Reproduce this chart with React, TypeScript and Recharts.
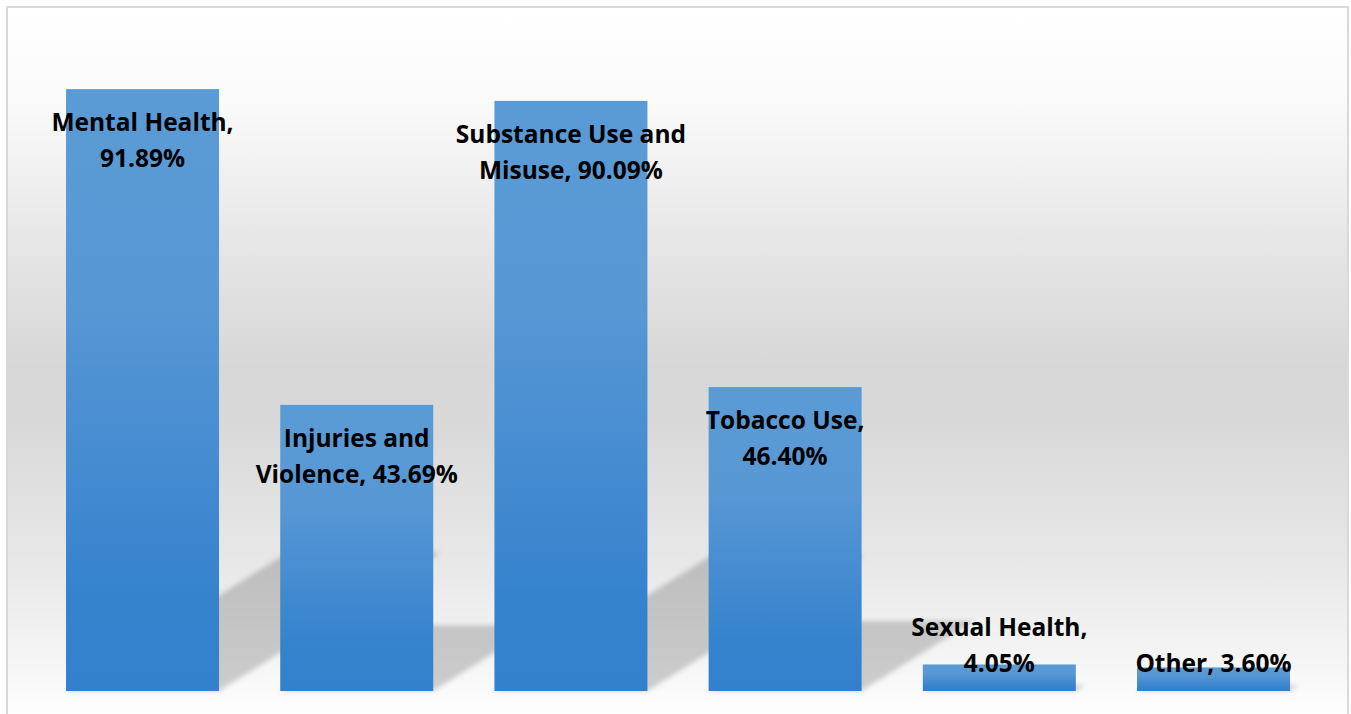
import React from 'react';
import { BarChart, Bar, XAxis, YAxis, LabelList } from 'recharts';

const categories = [
  'Mental Health',
  'Injuries and Violence',
  'Substance Use and Misuse',
  'Tobacco Use',
  'Sexual Health',
  'Other',
];
const shares = [91.89, 43.69, 90.09, 46.4, 4.05, 3.6];

const data = categories.map((name, i) => ({ name, share: shares[i] }));

const WIDTH = 1351;
const HEIGHT = 714;
const FONT_SIZE = 24.5;
const LINE_HEIGHT = 36;
const MAX_CHARS = 17;

// greedy word wrap on character count
function wrapLabel(text: string): string[] {
  const words = text.split(' ');
  const lines: string[] = [];
  let current = '';
  words.forEach((w) => {
    const next = current ? `${current} ${w}` : w;
    if (next.length > MAX_CHARS && current) {
      lines.push(current);
      current = w;
    } else {
      current = next;
    }
  });
  if (current) lines.push(current);
  return lines;
}

// bar with a skewed, blurred floor shadow falling back to the right
function ShadowedBar(props: any) {
  const { x, y, width, height, index } = props;
  if (!height || height <= 0) return null;
  const base = y + height;
  const rise = height * 0.23;
  const run = rise * 1.6;
  const pts = `${x},${base} ${x + width},${base} ${x + width + run},${base - rise} ${x + run},${base - rise}`;
  const gid = `barFill-${index}`;
  const fid = `barShadow-${index}`;
  return (
    <g>
      <defs>
        <linearGradient id={gid} x1="0" y1="0" x2="0" y2="1">
          <stop offset="0" stopColor="#5b9bd5" />
          <stop offset="0.35" stopColor="#5797d4" />
          <stop offset="0.85" stopColor="#3582cd" />
          <stop offset="1" stopColor="#3380cc" />
        </linearGradient>
        <filter id={fid} x="-0.2" y="-1" width="1.4" height="3">
          <feGaussianBlur stdDeviation="2.5" />
        </filter>
      </defs>
      <polygon points={pts} fill="#000" fillOpacity={0.18} filter={`url(#${fid})`} />
      <rect x={x} y={y} width={width} height={height} fill={`url(#${gid})`} />
    </g>
  );
}

function BarLabel(props: any) {
  const x = Number(props.x);
  const y = Number(props.y);
  const width = Number(props.width);
  const height = Number(props.height);
  const i = props.index ?? categories.indexOf(props.value);
  const lines = wrapLabel(`${categories[i]}, ${shares[i].toFixed(2)}%`);
  const base = y + height;
  const top = Math.min(y + 15, base - 10 - lines.length * LINE_HEIGHT);
  const cx = x + width / 2;
  return (
    <text
      textAnchor="middle"
      fontFamily="'Open Sans', sans-serif"
      fontWeight={700}
      fontSize={FONT_SIZE}
      fill="#000"
    >
      {lines.map((line, k) => (
        <tspan key={k} x={cx} y={top + LINE_HEIGHT * (k + 0.5) + 8.7}>
          {line}
        </tspan>
      ))}
    </text>
  );
}

export default function App() {
  return (
    <div style={{ position: 'absolute', left: 0, top: 0, width: WIDTH, height: HEIGHT, overflow: 'hidden', background: '#fff' }}>
      <div
        style={{
          position: 'absolute',
          left: 6,
          top: 6,
          width: 1339,
          height: 720,
          border: '2px solid #d9d9d9',
          background:
            'linear-gradient(to bottom, #ffffff 0%, #fbfbfb 12%, #e4e4e4 35%, #d7d7d7 50%, #d9d9d9 58%, #e6e6e6 75%, #f4f4f4 90%, #fdfdfd 97%, #ffffff 100%)',
        }}
      />
      <div style={{ position: 'absolute', left: 0, top: 0 }}>
        <BarChart
          width={WIDTH}
          height={HEIGHT}
          data={data}
          margin={{ top: 36, right: 30.4, bottom: 23, left: 35.4 }}
          barCategoryGap="14.3%"
        >
          <XAxis dataKey="name" hide />
          <YAxis domain={[0, 100]} hide />
          <Bar dataKey="share" shape={<ShadowedBar />} isAnimationActive={false}>
            <LabelList dataKey="name" content={<BarLabel />} />
          </Bar>
        </BarChart>
      </div>
    </div>
  );
}
